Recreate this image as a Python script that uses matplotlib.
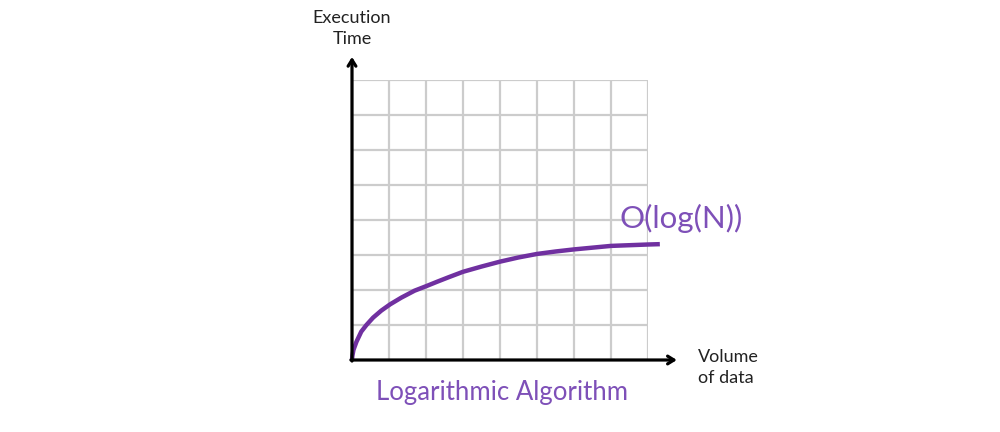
import matplotlib
matplotlib.use('Agg')
import matplotlib.pyplot as plt

# Curve, in grid units (8 x 8 boxes)
volume = [0, 0.01, 0.04, 0.12, 0.25, 0.39, 0.57, 0.79, 1.03, 1.33, 1.69, 2.03, 2.31,
          2.6, 3.0, 3.5, 4.0, 4.5, 5.0, 5.5, 6.0, 6.5, 7.0, 7.5, 8.0, 8.32]
exec_time = [0, 0.12, 0.29, 0.52, 0.81, 1.0, 1.21, 1.41, 1.59, 1.78, 1.98, 2.12, 2.24,
             2.36, 2.52, 2.67, 2.81, 2.93, 3.03, 3.10, 3.16, 3.21, 3.26, 3.28, 3.30, 3.31]

grid_ticks = list(range(9))
curve_label = 'O(log(N))'
title = 'Logarithmic Algorithm'
y_label = ['Execution', 'Time']
x_label = ['Volume', 'of data']

purple = '#7030A0'
text_purple = '#7E50B8'
font = 'Lato'

fig = plt.figure(figsize=(10, 4.32), dpi=100)
# axes placed so the 8x8 grid sits where it is in the picture
ax = fig.add_axes([0.352, 1 - 360 / 432, 0.296, 280 / 432])
ax.set_xlim(0, 8)
ax.set_ylim(0, 8)

ax.set_xticks(grid_ticks)
ax.set_yticks(grid_ticks)
ax.tick_params(length=0, labelbottom=False, labelleft=False)
ax.grid(True, color='#cccccc', linewidth=1.6)
for s in ax.spines.values():
    s.set_visible(False)

ax.plot(volume, exec_time, color=purple, linewidth=3.2, solid_capstyle='butt',
        solid_joinstyle='round', clip_on=False, zorder=3)

# axis arrows
arrow = dict(arrowstyle='->,head_length=0.45,head_width=0.28', lw=2.3, color='black', shrinkA=0, shrinkB=0)
ax.annotate('', xy=(0, 8.66), xytext=(0, -0.03), arrowprops=arrow, annotation_clip=False, zorder=4)
ax.annotate('', xy=(8.78, 0), xytext=(-0.03, 0), arrowprops=arrow, annotation_clip=False, zorder=4)

# labels
ax.text(0, 9.64, y_label[0], ha='center', va='baseline', fontsize=13, family=font, color='#222222')
ax.text(0, 9.03, y_label[1], ha='center', va='baseline', fontsize=13, family=font, color='#222222')
ax.text(9.35, -0.06, x_label[0], ha='left', va='baseline', fontsize=13, family=font, color='#222222')
ax.text(9.35, -0.66, x_label[1], ha='left', va='baseline', fontsize=13, family=font, color='#222222')

ax.text(7.22, 3.77, curve_label, ha='left', va='baseline', fontsize=22.5, family=font, color=text_purple)
ax.text(4.05, -1.14, title, ha='center', va='baseline', fontsize=18.5, family=font, color=text_purple)

fig.savefig('out.png', dpi=100)
